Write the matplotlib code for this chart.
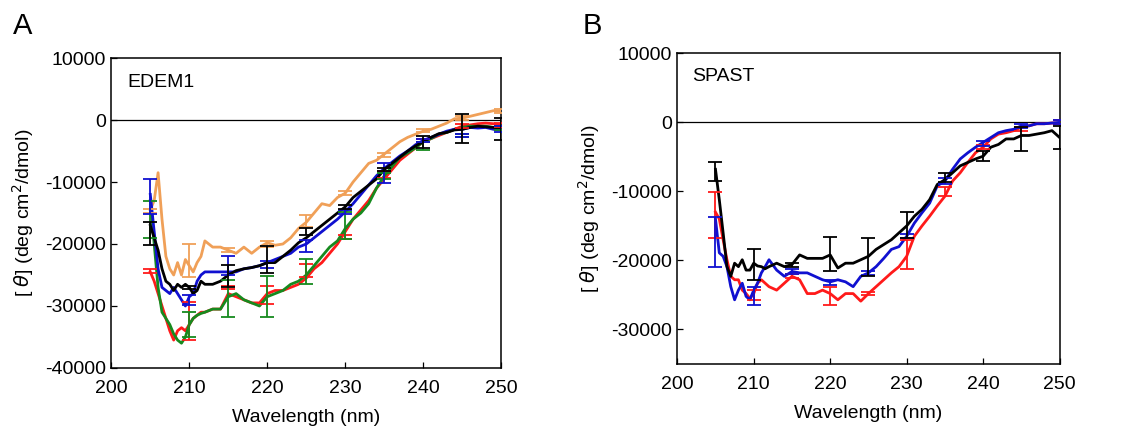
import matplotlib
matplotlib.use("Agg")
import matplotlib.pyplot as plt
import numpy as np

plt.rcParams['font.family'] = ['Liberation Sans', 'DejaVu Sans']
plt.rcParams['mathtext.fontset'] = 'dejavusans'
plt.rcParams['axes.unicode_minus'] = False

# wavelength grid (nm): half steps up to 212, then 1 nm
wl = np.r_[np.arange(205, 212.5, 0.5), np.arange(213, 251, 1)]
err_wl = [205, 210, 215, 220, 225, 230, 235, 240, 245, 250]

# ---- panel A: EDEM1 (values in 1000 deg cm2/dmol)
edem_orange = [-14.5, -13, -8.5, -16, -22, -24, -25, -23, -25, -22.5, -23.5, -24.5, -23, -22, -19.5,
               -20.5, -20.5, -21, -21.5, -20.5, -21.5, -20.5, -19.8, -20.2, -20, -19, -17.5, -16.5,
               -15, -13.5, -13.8, -12.5, -11.8, -10, -8.5, -7, -6.5, -5.5, -4.5, -3.5, -2.8, -2.3,
               -1.8, -1.5, -1, -0.5, 0.2, 0.3, 0.6, 0.9, 1.2, 1.5, 1.4]
edem_red = [-24.5, -26, -28, -30, -32, -34, -35.5, -34, -33.5, -34, -33, -32, -31.5, -31, -31,
            -30.5, -30.5, -28, -28.5, -29, -29.5, -29.5, -28, -27.5, -27.5, -27, -26.5, -25.5,
            -24, -23, -21.5, -20, -18, -16, -14.5, -13, -11, -9.5, -8, -6.5, -5.5, -4.5,
            -3.5, -3, -2.5, -2, -1.5, -1, -0.8, -0.6, -0.5, -0.6, -0.8]
edem_green = [-13, -20, -27, -31, -32, -33, -34.5, -35.5, -36, -35, -33, -32, -31.5, -31.2, -31,
              -30.5, -30.5, -28.5, -28, -29, -29.5, -30, -28.5, -28, -27.5, -26.5, -26, -25,
              -23.5, -22, -20.5, -19.5, -17.5, -16, -15, -13.5, -11, -9, -7.5, -6, -5.3, -4.5,
              -3.5, -3, -2.3, -2, -1.5, -1.2, -1, -1, -1, -1.2, -1.3]
edem_blue = [-12, -18, -24, -27, -27.5, -28, -27, -28, -29, -30, -28.5, -28, -26, -25, -24.5,
             -24.5, -24.5, -24.5, -24.5, -24, -23.8, -23.5, -23, -22.5, -22, -21.5, -20.5, -20,
             -19, -18, -17, -16, -14.8, -13.5, -12, -10.5, -9, -7.8, -6.8, -5.8, -5, -4,
             -3.3, -2.8, -2.3, -1.8, -1.5, -1.5, -1.2, -1.3, -1.2, -1.5, -1.5]
edem_black = [-17, -19, -21, -24, -26, -26.5, -27.5, -26.5, -27, -26.5, -27, -28, -27.5, -26, -26.5,
              -26.5, -26, -25, -24.3, -24, -23.8, -23.5, -23, -23, -22, -21, -19.8, -19,
              -18, -17, -16, -15, -14, -12.5, -11.5, -10.5, -9.5, -8, -7, -6, -5, -4.2,
              -3.5, -2.8, -2.2, -2, -1.6, -1.5, -1.2, -1, -1.1, -1.2, -1.3]

edem_orange_m = [-14.7, -22.7, -21, -20, -16.3, -11.8, -5.6, -1.7, 0.3, 1.4]
edem_orange_e = [0.3, 2.7, 0.3, 0.5, 0.9, 0.3, 0.3, 0.3, 0.3, 0.3]
edem_red_m = [-24.3, -32.4, -27, -28.2, -24.3, -18.9, -8.8, -3.3, -1, -0.8]
edem_red_e = [0.3, 3.1, 0.3, 1.4, 1.0, 0.3, 0.5, 0.3, 0.3, 0.3]
edem_green_m = [-16, -33, -28.8, -28.5, -24.5, -17, -9, -4.2, -2.5, -1.3]
edem_green_e = [3, 2, 3, 3.3, 2.0, 2.2, 0.5, 0.7, 0.3, 0.3]
edem_blue_m = [-12.3, -29, -23.5, -23.3, -20.3, -14.8, -8.5, -3.3, -2.5, -1.5]
edem_blue_e = [2.8, 0.8, 1.5, 0.5, 1.0, 0.3, 1.6, 0.3, 0.3, 0.5]
edem_black_m = [-18.3, -27, -25.2, -22.5, -18, -14, -8, -3.5, -1.4, -1.5]
edem_black_e = [1.8, 0.3, 1.8, 2.1, 0.6, 0.3, 0.3, 1.0, 2.3, 1.8]

# ---- panel B: SPAST
spast_black = [-6.8, -11.2, -16, -20.9, -22.3, -20.4, -20.9, -19.9, -21.4, -21.4, -20.4, -20.8, -20.9, -21.2, -20.9,
               -20.4, -20.9, -20.6, -19.2, -19.7, -19.7, -19.7, -19.2, -21.1, -20.4, -20.4, -19.9, -19.4,
               -18.4, -17.7, -17, -16, -15, -13.6, -12.6, -11.2, -9, -8.3, -7.3, -6.3, -5.8, -5.3,
               -4.9, -3.6, -3.2, -2.4, -2.4, -1.9, -1.9, -1.7, -1.5, -1.2, -2.2]
spast_blue = [-14, -18.9, -19.4, -20.9, -23.8, -25.7, -24.3, -23.3, -25.2, -25.7, -24.3, -23.3, -21.8, -20.9, -19.9,
              -21.4, -22.3, -21.6, -21.8, -21.8, -22.3, -22.8, -23.1, -22.8, -23.1, -23.8, -22.3, -21.8,
              -20.9, -19.7, -18.4, -18, -16.5, -14.6, -13.1, -11.7, -9.2, -8.5, -6.8, -5.3, -4.4, -3.6,
              -2.9, -2.2, -1.5, -1.2, -1, -0.5, -0.5, -0.2, -0.2, -0.1, 0]
spast_red = [-13, -14, -17, -19.9, -22.3, -22.8, -22.8, -24.3, -24.8, -25.5, -24.8, -23.3, -22.8, -23.3, -23.8,
             -24.3, -23.3, -22.3, -22.8, -24.8, -24.8, -24.3, -24.8, -25.7, -24.8, -24.8, -25.9, -24.8,
             -23.8, -22.8, -21.8, -20.9, -19.4, -16.5, -15, -13.6, -12.1, -10.7, -8.5, -7.3, -5.8, -4.4,
             -3.6, -2.4, -1.7, -1.5, -1.2, -0.7, -0.5, -0.2, -0.2, -0.1, -0.1]

spast_black_m = [-7.1, -20.6, -20.6, -19.1, -19.5, -14.9, -8.0, -4.85, -2.4, -2.2]
spast_black_e = [1.4, 2.2, 0.3, 2.5, 2.8, 1.9, 0.7, 0.75, 1.7, 1.7]
spast_red_m = [-13.4, -25, -22.3, -25.1, -24.8, -19.1, -10, -3.6, -1.0, 0]
spast_red_e = [3.3, 0.7, 0.3, 1.3, 0.2, 2.1, 0.7, 0.3, 0.3, 0.3]
spast_blue_m = [-17.3, -25.1, -21.6, -23.2, -21.8, -16.5, -8.5, -3.05, -0.5, 0]
spast_blue_e = [3.6, 1.3, 0.3, 0.3, 0.3, 0.3, 0.5, 0.35, 0.3, 0.3]

ORANGE = '#f0a058'
RED = '#ff1a1a'
GREEN = '#168a1e'
BLUE = '#1010d0'
BLACK = '#000000'

fig = plt.figure(figsize=(11.31, 4.30), dpi=100)
axA = fig.add_axes([0.0984, 0.1442, 0.3448, 0.7209])
axB = fig.add_axes([0.5988, 0.1535, 0.3381, 0.7225])


def draw(ax, series, errs):
    for y, c in series:
        ax.plot(wl, np.array(y) * 1000, color=c, lw=2, zorder=3)
    for m, e, c in errs:
        ax.errorbar(err_wl, np.array(m) * 1000, yerr=np.array(e) * 1000, fmt='none',
                    ecolor=c, elinewidth=1.3, capsize=5, capthick=1.3, zorder=4)
    ax.axhline(0, color='black', lw=0.9, zorder=2)
    ax.set_xlim(200, 250)
    ax.set_xticks([200, 210, 220, 230, 240, 250])
    ax.tick_params(direction='in', length=4, labelsize=14, width=0.9)
    ax.tick_params(axis='x', pad=9)
    ax.tick_params(axis='y', pad=4)
    ax.set_xlabel('Wavelength (nm)', fontsize=14, labelpad=8)
    ax.set_ylabel(r'[ $\theta$] (deg cm$^2$/dmol)', fontsize=14, labelpad=6)
    for s in ax.spines.values():
        s.set_linewidth(1.1)


draw(axA,
     [(edem_orange, ORANGE), (edem_red, RED), (edem_green, GREEN), (edem_blue, BLUE), (edem_black, BLACK)],
     [(edem_orange_m, edem_orange_e, ORANGE), (edem_red_m, edem_red_e, RED),
      (edem_green_m, edem_green_e, GREEN), (edem_blue_m, edem_blue_e, BLUE),
      (edem_black_m, edem_black_e, BLACK)])
axA.set_ylim(-40000, 10000)
axA.set_yticks([-40000, -30000, -20000, -10000, 0, 10000])
axA.text(0.04, 0.92, 'EDEM1', transform=axA.transAxes, fontsize=14, va='center')

draw(axB,
     [(spast_red, RED), (spast_blue, BLUE), (spast_black, BLACK)],
     [(spast_red_m, spast_red_e, RED), (spast_blue_m, spast_blue_e, BLUE),
      (spast_black_m, spast_black_e, BLACK)])
axB.set_ylim(-35000, 10000)
axB.set_yticks([-30000, -20000, -10000, 0, 10000])
axB.text(0.04, 0.925, 'SPAST', transform=axB.transAxes, fontsize=14, va='center')

fig.text(0.011, 0.92, 'A', fontsize=21)
fig.text(0.515, 0.92, 'B', fontsize=21)

fig.savefig('out.png', dpi=100)
